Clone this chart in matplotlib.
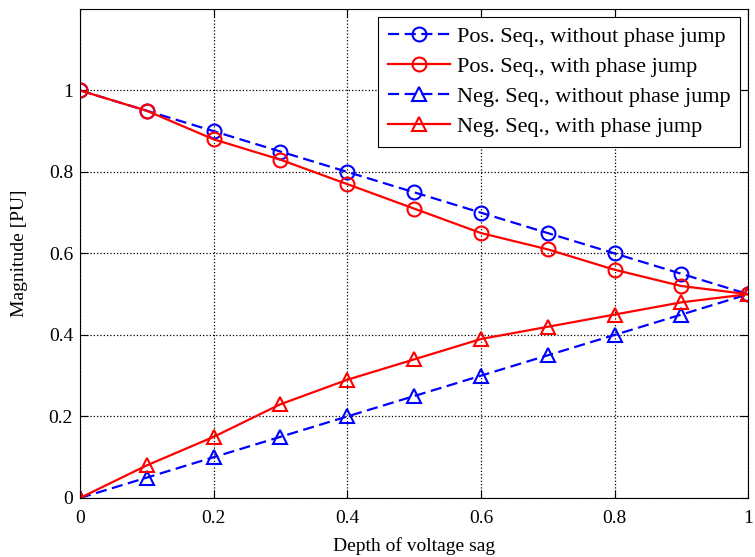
import numpy as np
import matplotlib
matplotlib.use('Agg')
import matplotlib.pyplot as plt

# Depth of voltage sag
depth = [0, 0.1, 0.2, 0.3, 0.4, 0.5, 0.6, 0.7, 0.8, 0.9, 1.0]

# Magnitudes
pos_without = [1.0, 0.95, 0.90, 0.85, 0.80, 0.75, 0.70, 0.65, 0.60, 0.55, 0.50]
pos_with = [1.0, 0.95, 0.88, 0.83, 0.77, 0.71, 0.65, 0.61, 0.56, 0.52, 0.50]
neg_without = [0.0, 0.05, 0.10, 0.15, 0.20, 0.25, 0.30, 0.35, 0.40, 0.45, 0.50]
neg_with = [0.0, 0.08, 0.15, 0.23, 0.29, 0.34, 0.39, 0.42, 0.45, 0.48, 0.50]

labels = ['Pos. Seq., without phase jump', 'Pos. Seq., with phase jump',
          'Neg. Seq., without phase jump', 'Neg. Seq., with phase jump']

plt.rcParams['font.family'] = ['Liberation Serif', 'DejaVu Serif']
plt.rcParams['font.size'] = 14

fig = plt.figure(figsize=(7.55, 5.57), dpi=100)
ax = fig.add_axes([0.106, 0.106, 0.885, 0.878])

ms = 10
lw = 1.6
dash = (5, 2.5)
ax.plot(depth, pos_without, '--o', color='blue', lw=lw, ms=ms, mfc='none', mew=1.5,
        dashes=dash, label=labels[0])
ax.plot(depth, pos_with, '-o', color='red', lw=lw, ms=ms, mfc='none', mew=1.5, label=labels[1])
ax.plot(depth, neg_without, '--^', color='blue', lw=lw, ms=ms, mfc='none', mew=1.5,
        dashes=dash, label=labels[2])
ax.plot(depth, neg_with, '-^', color='red', lw=lw, ms=ms, mfc='none', mew=1.5, label=labels[3])

ax.set_xlim(0, 1)
ax.set_ylim(0, 1.2)
ax.set_xticks([0, 0.2, 0.4, 0.6, 0.8, 1])
ax.set_xticklabels(['0', '0.2', '0.4', '0.6', '0.8', '1'])
ax.set_yticks([0, 0.2, 0.4, 0.6, 0.8, 1])
ax.set_yticklabels(['0', '0.2', '0.4', '0.6', '0.8', '1'])
ax.tick_params(direction='in', top=True, right=True, length=6, labelsize=14)
ax.tick_params(axis='x', pad=9)
ax.tick_params(axis='y', pad=5)
ax.grid(True, linestyle=':', color='black', lw=0.9)
ax.set_xlabel('Depth of voltage sag', fontsize=14, labelpad=7)
ax.set_ylabel('Magnitude [PU]', fontsize=14, labelpad=15)

leg = ax.legend(loc='upper right', fontsize=16, fancybox=False, framealpha=1,
                edgecolor='black', handlelength=2.8, borderaxespad=0.35,
                labelspacing=0.42, handletextpad=0.3, borderpad=0.45)
leg.get_frame().set_linewidth(0.8)

fig.savefig('out.png', dpi=100)
